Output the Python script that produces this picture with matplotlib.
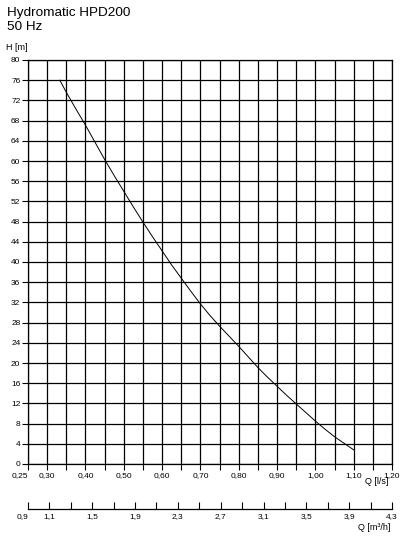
import matplotlib
matplotlib.use("Agg")
import matplotlib.pyplot as plt
import numpy as np

# Data
q_ls = [0.333, 0.35, 0.375, 0.40, 0.425, 0.45, 0.475, 0.50, 0.525, 0.55, 0.575, 0.60,
        0.625, 0.65, 0.675, 0.70, 0.725, 0.75, 0.775, 0.80, 0.825, 0.85, 0.875, 0.90,
        0.925, 0.95, 0.975, 1.00, 1.025, 1.05, 1.075, 1.10]
h_m = [76.0, 73.6, 70.3, 67.1, 63.7, 60.3, 57.1, 54.0, 50.9, 47.9, 45.0, 42.2,
       39.4, 36.8, 34.2, 31.7, 29.4, 27.3, 25.3, 23.3, 21.2, 19.1, 17.2, 15.4,
       13.6, 11.9, 10.2, 8.5, 6.9, 5.4, 4.1, 2.8]

x_labels_ls = [0.25, 0.30, 0.40, 0.50, 0.60, 0.70, 0.80, 0.90, 1.00, 1.10, 1.20]
y_ticks = list(range(0, 81, 4))
x_labels_m3h = [0.9, 1.1, 1.5, 1.9, 2.3, 2.7, 3.1, 3.5, 3.9, 4.3]

title_lines = ["Hydromatic HPD200", "50 Hz"]

plt.rcParams['font.family'] = ['Liberation Sans', 'DejaVu Sans']

W, H = 406, 539
fig = plt.figure(figsize=(W / 100, H / 100), dpi=100)

def fx(px):
    return px / W

def fy(py):
    return 1 - py / H

left, right, top, bottom = 28, 392, 60, 464
ax = fig.add_axes([fx(left), fy(bottom), fx(right - left), (bottom - top) / H])

ax.plot(q_ls, h_m, color='black', lw=0.7)
ax.set_xlim(0.25, 1.20)
ax.set_ylim(0, 80)

xt = np.round(np.arange(0.25, 1.2001, 0.05), 2)
ax.set_xticks(xt)
ax.set_xticklabels(["" if round(v, 2) not in x_labels_ls else f"{v:.2f}".replace('.', ',') for v in xt])
ax.set_yticks(y_ticks)
ax.set_yticklabels([str(v) for v in y_ticks])
ax.grid(True, color='black', lw=0.9)
ax.set_axisbelow(True)
for s in ax.spines.values():
    s.set_color('black')
    s.set_linewidth(0.9)
ax.tick_params(axis='both', direction='out', length=4, width=0.8, pad=1.5, labelsize=6, colors='black')
lbls = ax.get_xticklabels()
lbls[0].set_horizontalalignment('right')

fig.text(fx(7), fy(16), title_lines[0], ha='left', va='baseline', fontsize=9.7)
fig.text(fx(7), fy(30.5), title_lines[1], ha='left', va='baseline', fontsize=9.7)
fig.text(fx(6), fy(47), "H [m]", ha='left', va='center', fontsize=6.5)
fig.text(fx(389), fy(481), "Q [l/s]", ha='right', va='center', fontsize=6.5)

# Secondary (m3/h) axis
ax2 = fig.add_axes([fx(left), fy(509), fx(right - left), 0.001])
ax2.set_xlim(0.9, 4.3)
ax2.set_ylim(0, 1)
for k in ['top', 'left', 'right']:
    ax2.spines[k].set_visible(False)
ax2.spines['bottom'].set_linewidth(0.9)
ax2.set_yticks([])
ax2.set_facecolor('none')
ax2.set_xticks(x_labels_m3h)
ax2.set_xticklabels([f"{v:.1f}".replace('.', ',') for v in x_labels_m3h])
minor = [v for v in np.round(np.arange(0.9, 4.3001, 0.2), 1) if v not in x_labels_m3h]
ax2.set_xticks(minor, minor=True)
ax2.tick_params(axis='x', which='both', direction='in', length=5, width=0.8, pad=3, labelsize=6)
ax2.get_xticklabels()[0].set_horizontalalignment('right')
fig.text(fx(391), fy(528), "Q [m³/h]", ha='right', va='center', fontsize=6.5)

fig.savefig("out.png", dpi=100)
